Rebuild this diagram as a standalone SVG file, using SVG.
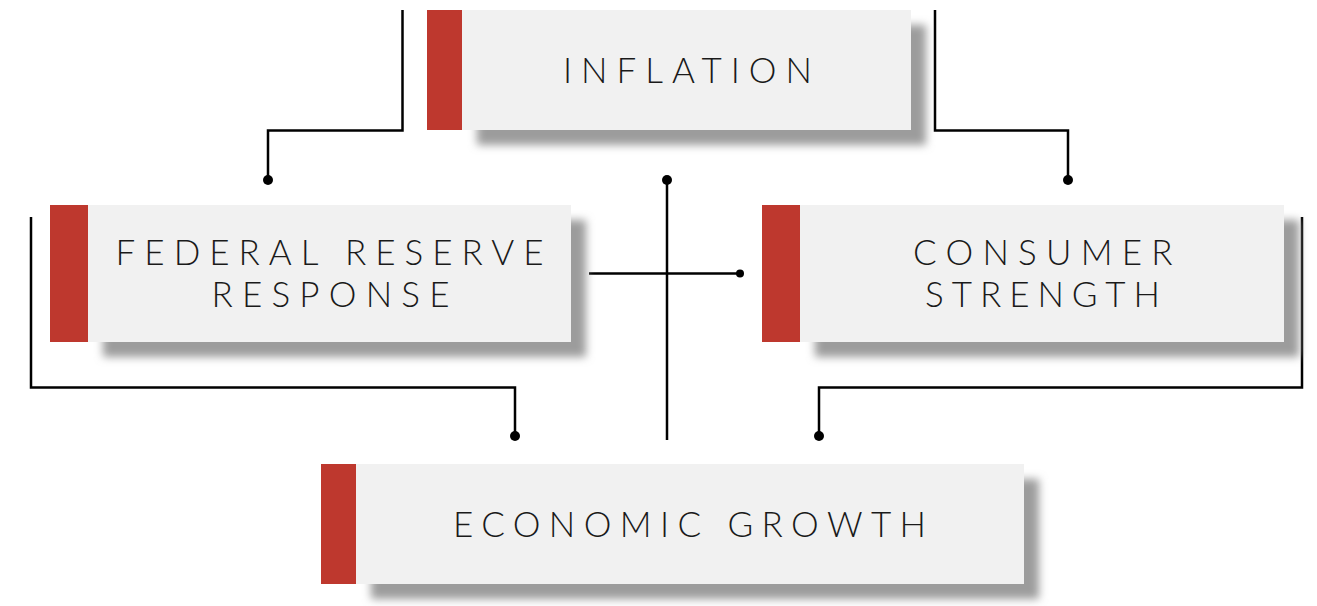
<svg xmlns="http://www.w3.org/2000/svg" width="1317" height="606" viewBox="0 0 1317 606">
<defs>
<filter id="sh" x="-10%" y="-30%" width="130%" height="160%"><feGaussianBlur stdDeviation="4"/></filter>
<style>
.box{fill:#f1f1f1}
.bar{fill:#be382e}
.shadow{fill:#9c9c9c;filter:url(#sh)}
.lbl{font-family:Lato,"Liberation Sans",sans-serif;font-weight:300;font-size:35px;fill:#1a1a1a;text-anchor:middle}
.ln{fill:none;stroke:#000;stroke-width:2.5}
.dot{fill:#000}
</style>
</defs>
<rect width="1317" height="606" fill="#fff"/>
<g id="connectors">
<path class="ln" d="M402.5 10 V130.5 H268 V180"/>
<circle class="dot" cx="268" cy="180" r="5"/>
<path class="ln" d="M935 10 V130.5 H1068 V180"/>
<circle class="dot" cx="1068" cy="180" r="5"/>
<path class="ln" d="M667 180 V440"/>
<circle class="dot" cx="667" cy="180" r="5"/>
<path class="ln" d="M589 273.5 H740"/>
<circle class="dot" cx="740" cy="273.5" r="4"/>
<path class="ln" d="M31 217 V387.5 H515 V436"/>
<circle class="dot" cx="515" cy="436" r="5"/>
<path class="ln" d="M1302 217 V387.5 H819 V436"/>
<circle class="dot" cx="819" cy="436" r="5"/>
</g>
<g id="inflation">
<rect class="shadow" x="477" y="25" width="449" height="120"/>
<rect class="box" x="427" y="10" width="484" height="120"/>
<rect class="bar" x="427" y="10" width="35" height="120"/>
<text class="lbl" x="687.5" y="83.3" textLength="249" lengthAdjust="spacing">INFLATION</text>
</g>
<g id="federal-reserve">
<rect class="shadow" x="103" y="220" width="483" height="137"/>
<rect class="box" x="50" y="205" width="521" height="137"/>
<rect class="bar" x="50" y="205" width="38" height="137"/>
<text class="lbl" x="329.6" y="265" textLength="428" lengthAdjust="spacing">FEDERAL RESERVE</text>
<text class="lbl" x="330.5" y="307.3" textLength="238" lengthAdjust="spacing">RESPONSE</text>
</g>
<g id="consumer-strength">
<rect class="shadow" x="815" y="220" width="484" height="137"/>
<rect class="box" x="762" y="205" width="522" height="137"/>
<rect class="bar" x="762" y="205" width="38" height="137"/>
<text class="lbl" x="1042.8" y="265" textLength="259.5" lengthAdjust="spacing">CONSUMER</text>
<text class="lbl" x="1042.5" y="306.7" textLength="235" lengthAdjust="spacing">STRENGTH</text>
</g>
<g id="economic-growth">
<rect class="shadow" x="371" y="479" width="668" height="120"/>
<rect class="box" x="321" y="464" width="703" height="120"/>
<rect class="bar" x="321" y="464" width="35" height="120"/>
<text class="lbl" x="689.5" y="537.3" textLength="473" lengthAdjust="spacing">ECONOMIC GROWTH</text>
</g>
</svg>
